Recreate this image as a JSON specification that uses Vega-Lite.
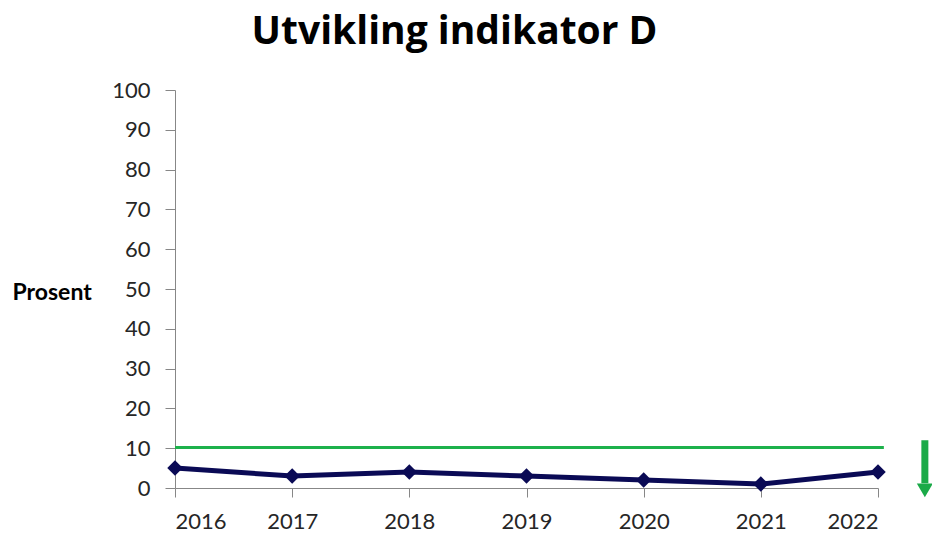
{
  "$schema": "https://vega.github.io/schema/vega-lite/v6.json",
  "width": 703,
  "height": 398,
  "autosize": "none",
  "padding": {"left": 175, "top": 90, "right": 54, "bottom": 47},
  "background": "white",
  "title": {
    "text": "Utvikling indikator D",
    "font": "Open Sans",
    "fontSize": 39,
    "fontWeight": "bold",
    "color": "#000000",
    "anchor": "middle",
    "frame": "group",
    "dx": -72,
    "offset": 27
  },
  "config": {
    "view": {"stroke": null},
    "axis": {
      "labelFont": "Lato",
      "titleFont": "Lato",
      "labelFontSize": 22,
      "labelColor": "#262626",
      "domainColor": "#878787",
      "tickColor": "#878787",
      "labelOverlap": false,
      "grid": false
    }
  },
  "datasets": {
    "series": [
      {"year": 2016, "value": 5},
      {"year": 2017, "value": 3},
      {"year": 2018, "value": 4},
      {"year": 2019, "value": 3},
      {"year": 2020, "value": 2},
      {"year": 2021, "value": 1},
      {"year": 2022, "value": 4}
    ],
    "target": [{"year": 2016, "year2": 2022.05, "value": 10.2}],
    "arrow": [{"year": 2022.4, "value": 12, "value2": 1.2}],
    "arrowhead": [{"year": 2022.4, "value": -0.6}]
  },
  "encoding": {
    "x": {
      "field": "year",
      "type": "quantitative",
      "scale": {"domain": [2016, 2022], "nice": false, "zero": false},
      "axis": {
        "title": null,
        "values": [2016, 2017, 2018, 2019, 2020, 2021, 2022],
        "format": "d",
        "tickSize": 9,
        "labelPadding": 14,
        "labelOverlap": false
      }
    },
    "y": {
      "field": "value",
      "type": "quantitative",
      "scale": {"domain": [0, 100], "nice": false},
      "axis": {
        "title": "Prosent",
        "titleAngle": 0,
        "titleFontSize": 23,
        "titleFontWeight": "bold",
        "titleColor": "#000000",
        "titleAlign": "left",
        "titleBaseline": "middle",
        "titleX": -163,
        "titleY": 202,
        "values": [0, 10, 20, 30, 40, 50, 60, 70, 80, 90, 100],
        "tickSize": 10,
        "labelPadding": 15,
        "labelOverlap": false
      }
    }
  },
  "layer": [
    {
      "data": {"name": "target"},
      "mark": {"type": "rule", "color": "#1DB14B", "strokeWidth": 3, "clip": false},
      "encoding": {
        "x2": {"field": "year2"}
      }
    },
    {
      "data": {"name": "series"},
      "mark": {
        "type": "line",
        "color": "#0A0A55",
        "strokeWidth": 5,
        "point": {"shape": "diamond", "filled": true, "size": 240, "color": "#0A0A55"}
      }
    },
    {
      "data": {"name": "arrow"},
      "mark": {"type": "rule", "color": "#1BAA48", "strokeWidth": 7, "clip": false},
      "encoding": {
        "y2": {"field": "value2"}
      }
    },
    {
      "data": {"name": "arrowhead"},
      "mark": {"type": "point", "shape": "triangle-down", "filled": true, "color": "#1BAA48", "size": 260, "opacity": 1, "clip": false}
    }
  ]
}
